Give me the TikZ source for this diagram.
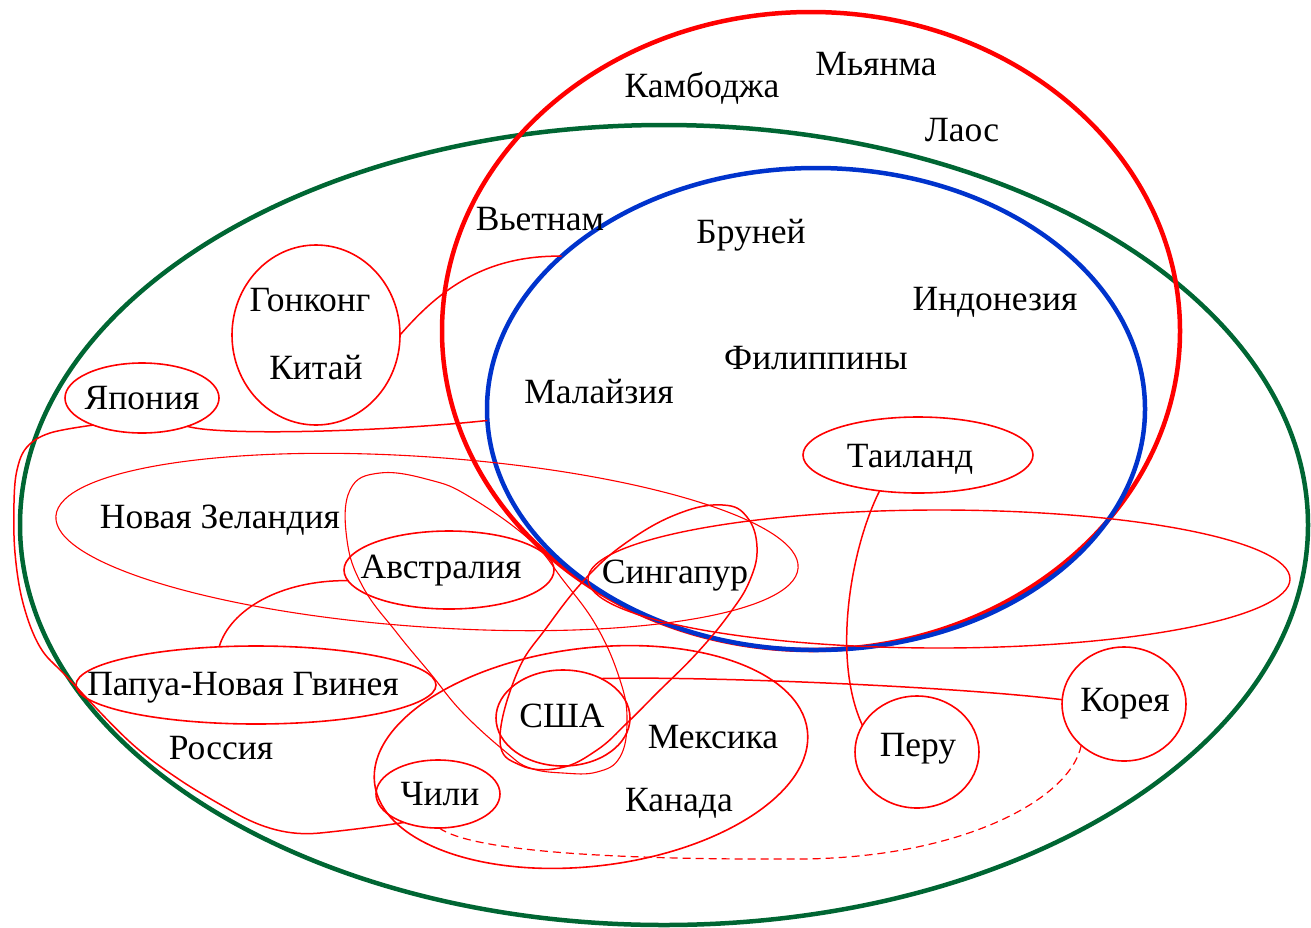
\documentclass[tikz,border=0pt]{standalone}
\usepackage{fontspec}
\setmainfont{Liberation Serif}
\usetikzlibrary{shapes.geometric}

\definecolor{apecgreen}{RGB}{0,102,51}
\definecolor{aseanblue}{RGB}{0,51,204}

\begin{document}
\begin{tikzpicture}[x=1pt, y=-1pt,
        region/.style={draw, ellipse, inner sep=0pt, outer sep=0pt, line width=4.5pt},
        country/.style={draw=red, ellipse, inner sep=0pt, outer sep=0pt, line width=1.6pt},
        thinloop/.style={draw=red, line width=1.1pt},
        link/.style={draw=red, line width=1.5pt},
        lbl/.style={font=\fontsize{35.5}{40}\selectfont, inner sep=0pt}]

    \useasboundingbox (0,0) rectangle (1311,927);

    % big groupings
    \node[region, draw=apecgreen, minimum width=1288pt, minimum height=800pt] (apec) at (664,525) {};
    \node[region, draw=red, minimum width=738pt, minimum height=638pt] (asean) at (811,331) {};
    \node[region, draw=aseanblue, minimum width=658pt, minimum height=482pt] (core) at (816,409) {};

    % country ellipses
    \node[country, minimum width=168pt, minimum height=180pt] (china) at (316,335) {};
    \node[country, minimum width=154pt, minimum height=70pt] (japan) at (142,398) {};
    \node[country, minimum width=210pt, minimum height=78pt] (australia) at (449,570) {};
    \node[country, minimum width=360pt, minimum height=78pt] (png) at (256,685) {};
    \node[country, minimum width=134pt, minimum height=96pt] (usa) at (563,718) {};
    \node[country, minimum width=124pt, minimum height=68pt] (chile) at (438,794) {};
    \node[country, minimum width=230pt, minimum height=76pt] (thailand) at (918,455) {};
    \node[country, minimum width=124pt, minimum height=112pt] (peru) at (917,752) {};
    \node[country, minimum width=124pt, minimum height=114pt] (korea) at (1124,704) {};
    \node[country, line width=1.4pt, minimum width=702pt, minimum height=138pt] (sgbelt) at (939,579) {};
    \node[country, minimum width=436pt, minimum height=218pt, rotate=7] (nafta) at (591,757) {};
    \node[country, line width=1.1pt, minimum width=744pt, minimum height=170pt, rotate=-4] (nz) at (427,542) {};

    % loops through Australia and Singapore
    \draw[thinloop] plot[smooth cycle, tension=0.7] coordinates {(380,473) (430,480) (470,497) (530,540)
        (563,580) (597,627) (620,680) (627,720) (620,757) (597,772) (563,773) (530,768) (507,753)
        (463,713) (430,673) (397,633) (363,587) (347,540) (350,490)};
    \draw[link] plot[smooth cycle, tension=0.7] coordinates {(500,740) (517,673) (547,627) (587,577)
        (630,540) (680,513) (723,505) (747,517) (757,547) (750,580) (730,613) (697,653) (657,693)
        (627,723) (597,750) (560,768) (520,765)};

    % connectors
    \draw[link] (china.0) .. controls (435,295) and (480,255) .. (core.149);
    \draw[link] (japan.-32) .. controls (220,436) and (380,432) .. (core.182);
    \draw[link] plot[smooth, tension=0.6] coordinates {(japan.209) (50,433) (27,447) (17,470) (14,503)
        (15,553) (23,603) (40,647) (67,677) (130,742) (180,780) (230,810)}
        .. controls (262,829) and (290,836) .. (320,833) .. controls (350,830) and (380,826) .. (chile.-140);
    \draw[link] (png.134) .. controls (230,610) and (280,580) .. (australia.186);
    \draw[link] (thailand.223) .. controls (850,550) and (832,660) .. (peru.154);
    \draw[link] (usa.46) .. controls (700,676) and (950,686) .. (korea.176);
    \draw[red, line width=1.2pt, dash pattern=on 8pt off 5pt] (chile.-88) .. controls (470,850) and (600,860) .. (800,859)
        .. controls (960,858) and (1070,800) .. (korea.224);

    % labels
    \node[lbl] (cambodia) at (702,88) {Камбоджа};
    \node[lbl] (myanmar) at (876,64) {Мьянма};
    \node[lbl] (laos) at (962,130) {Лаос};
    \node[lbl] (vietnam) at (540,219) {Вьетнам};
    \node[lbl] (brunei) at (751,235) {Бруней};
    \node[lbl] (indonesia) at (995,302) {Индонезия};
    \node[lbl] (philippines) at (816,358) {Филиппины};
    \node[lbl] (malaysia) at (599,392) {Малайзия};
    \node[lbl] (thailandtxt) at (910,459) {Таиланд};
    \node[lbl] (hongkong) at (310,300) {Гонконг};
    \node[lbl] (chinatxt) at (316,368) {Китай};
    \node[lbl] (japantxt) at (142,398) {Япония};
    \node[lbl] (nztxt) at (220,520) {Новая Зеландия};
    \node[lbl] (australiatxt) at (441,571) {Австралия};
    \node[lbl] (singapore) at (675,576) {Сингапур};
    \node[lbl] (usatxt) at (562,716) {США};
    \node[lbl] (mexico) at (713,737) {Мексика};
    \node[lbl] (canada) at (679,803) {Канада};
    \node[lbl] (chiletxt) at (440,794) {Чили};
    \node[lbl] (pngtxt) at (243,688) {Папуа-Новая Гвинея};
    \node[lbl] (russia) at (221,748) {Россия};
    \node[lbl] (perutxt) at (918,749) {Перу};
    \node[lbl] (koreatxt) at (1125,704) {Корея};
\end{tikzpicture}
\end{document}
